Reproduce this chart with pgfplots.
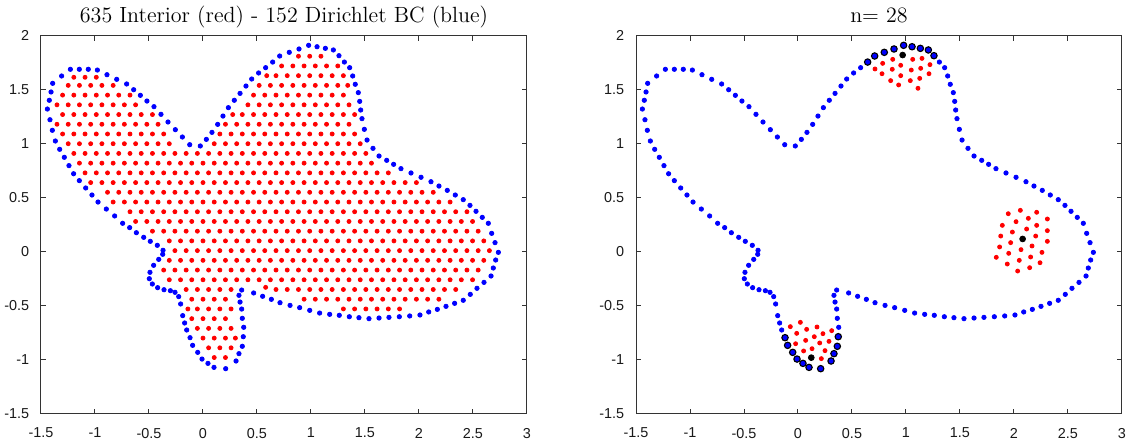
\documentclass[border=0pt]{standalone}
\usepackage{fontspec}
\setsansfont{Liberation Sans}
\usepackage{pgfplots}
\usepackage{pgfplotstable}
\pgfplotsset{compat=1.18}
\definecolor{mblue}{rgb}{0,0,1}
\definecolor{mred}{rgb}{1,0,0}

\pgfplotstableread[row sep=\\]{
x y\\
-1.228 1.689\\ -1.145 1.689\\ -1.062 1.689\\ -0.978 1.682\\ -0.889 1.639\\ -0.799 1.596\\ -0.707 1.553\\ -0.642 1.500\\
-0.580 1.448\\ -0.519 1.395\\ -0.454 1.343\\ -0.389 1.272\\ -0.324 1.201\\ -0.256 1.130\\ -0.191 1.062\\ -0.123 0.991\\
-0.025 0.979\\ 0.031 1.040\\ 0.083 1.105\\ 0.136 1.179\\ 0.185 1.256\\ 0.235 1.334\\ 0.290 1.402\\ 0.343 1.466\\
0.398 1.534\\ 0.451 1.599\\ 0.515 1.655\\ 0.580 1.704\\ 0.645 1.756\\ 0.710 1.812\\ 0.799 1.846\\ 0.889 1.877\\
0.978 1.911\\ 1.056 1.898\\ 1.133 1.883\\ 1.207 1.868\\ 1.259 1.815\\ 1.309 1.756\\ 1.358 1.704\\ 1.386 1.627\\
1.410 1.550\\ 1.438 1.473\\ 1.451 1.392\\ 1.460 1.312\\ 1.472 1.232\\ 1.494 1.133\\ 1.519 1.034\\ 1.574 0.957\\
1.630 0.886\\ 1.701 0.846\\ 1.765 0.809\\ 1.833 0.769\\ 1.926 0.729\\ 2.019 0.689\\ 2.111 0.648\\ 2.185 0.608\\
2.262 0.568\\ 2.336 0.525\\ 2.410 0.482\\ 2.472 0.429\\ 2.528 0.374\\ 2.586 0.318\\ 2.642 0.263\\ 2.673 0.170\\
2.704 0.084\\ 2.735 -0.006\\ 2.710 -0.077\\ 2.688 -0.151\\ 2.667 -0.225\\ 2.602 -0.284\\ 2.537 -0.339\\ 2.475 -0.395\\
2.410 -0.450\\ 2.330 -0.478\\ 2.250 -0.506\\ 2.170 -0.534\\ 2.090 -0.558\\ 2.009 -0.586\\ 1.914 -0.595\\ 1.818 -0.602\\
1.722 -0.608\\ 1.630 -0.614\\ 1.537 -0.620\\ 1.444 -0.611\\ 1.355 -0.602\\ 1.262 -0.589\\ 1.173 -0.580\\ 1.080 -0.568\\
0.988 -0.543\\ 0.895 -0.518\\ 0.806 -0.497\\ 0.713 -0.472\\ 0.633 -0.441\\ 0.552 -0.413\\ 0.469 -0.382\\ 0.358 -0.355\\
0.333 -0.404\\ 0.343 -0.466\\ 0.358 -0.531\\ 0.364 -0.617\\ 0.377 -0.700\\ 0.373 -0.787\\ 0.364 -0.876\\ 0.333 -0.944\\
0.306 -1.012\\ 0.210 -1.083\\ 0.102 -1.071\\ 0.046 -1.034\\ -0.009 -0.994\\ -0.049 -0.932\\ -0.096 -0.867\\ -0.120 -0.796\\
-0.151 -0.725\\ -0.170 -0.660\\ -0.188 -0.592\\ -0.207 -0.484\\ -0.225 -0.416\\ -0.259 -0.376\\ -0.302 -0.361\\ -0.361 -0.352\\
-0.420 -0.333\\ -0.469 -0.299\\ -0.497 -0.250\\ -0.491 -0.191\\ -0.457 -0.126\\ -0.410 -0.071\\ -0.373 -0.024\\ -0.370 0.013\\
-0.423 0.059\\ -0.488 0.096\\ -0.549 0.133\\ -0.617 0.176\\ -0.679 0.223\\ -0.744 0.263\\ -0.818 0.331\\ -0.895 0.395\\
-0.972 0.460\\ -1.028 0.525\\ -1.086 0.590\\ -1.145 0.658\\ -1.198 0.722\\ -1.241 0.797\\ -1.284 0.874\\ -1.327 0.948\\
-1.367 1.025\\ -1.395 1.124\\ -1.417 1.222\\ -1.441 1.321\\ -1.423 1.402\\ -1.407 1.479\\ -1.392 1.559\\ -1.309 1.627\\
}\bdry

\pgfplotstableread[row sep=\\]{
x y\\
0.104 -0.98\\ 0.208 -0.98\\
0.052 -0.89\\ 0.156 -0.89\\ 0.260 -0.89\\
0 -0.80\\ 0.104 -0.80\\ 0.208 -0.80\\ 0.300 -0.80\\
-0.052 -0.71\\ 0.052 -0.71\\ 0.156 -0.71\\ 0.260 -0.71\\
-0.104 -0.62\\ 0 -0.62\\ 0.104 -0.62\\ 0.208 -0.62\\
-0.140 -0.53\\ -0.052 -0.53\\ 0.052 -0.53\\ 0.156 -0.53\\ 0.260 -0.53\\ 1.300 -0.53\\ 1.404 -0.53\\ 1.508 -0.53\\ 1.612 -0.53\\ 1.716 -0.53\\ 1.820 -0.53\\
-0.104 -0.44\\ 0 -0.44\\ 0.104 -0.44\\ 0.208 -0.44\\ 0.936 -0.44\\ 1.040 -0.44\\ 1.144 -0.44\\ 1.248 -0.44\\ 1.352 -0.44\\ 1.456 -0.44\\ 1.560 -0.44\\ 1.664 -0.44\\ 1.768 -0.44\\ 1.872 -0.44\\ 1.976 -0.44\\ 2.080 -0.44\\ 2.184 -0.44\\
-0.156 -0.35\\ -0.052 -0.35\\ 0.052 -0.35\\ 0.156 -0.35\\ 0.260 -0.35\\ 0.580 -0.33\\ 0.676 -0.35\\ 0.780 -0.35\\ 0.884 -0.35\\ 0.988 -0.35\\ 1.092 -0.35\\ 1.196 -0.35\\ 1.300 -0.35\\ 1.404 -0.35\\ 1.508 -0.35\\ 1.612 -0.35\\ 1.716 -0.35\\ 1.820 -0.35\\ 1.924 -0.35\\ 2.028 -0.35\\ 2.132 -0.35\\ 2.236 -0.35\\ 2.340 -0.35\\
-0.312 -0.26\\ -0.208 -0.26\\ -0.104 -0.26\\ 0 -0.26\\ 0.104 -0.26\\ 0.208 -0.26\\ 0.312 -0.26\\ 0.416 -0.26\\ 0.520 -0.26\\ 0.624 -0.26\\ 0.728 -0.26\\ 0.832 -0.26\\ 0.936 -0.26\\ 1.040 -0.26\\ 1.144 -0.26\\ 1.248 -0.26\\ 1.352 -0.26\\ 1.456 -0.26\\ 1.560 -0.26\\ 1.664 -0.26\\ 1.768 -0.26\\ 1.872 -0.26\\ 1.976 -0.26\\ 2.080 -0.26\\ 2.184 -0.26\\ 2.288 -0.26\\ 2.392 -0.26\\ 2.496 -0.26\\
-0.364 -0.17\\ -0.260 -0.17\\ -0.156 -0.17\\ -0.052 -0.17\\ 0.052 -0.17\\ 0.156 -0.17\\ 0.260 -0.17\\ 0.364 -0.17\\ 0.468 -0.17\\ 0.572 -0.17\\ 0.676 -0.17\\ 0.780 -0.17\\ 0.884 -0.17\\ 0.988 -0.17\\ 1.092 -0.17\\ 1.196 -0.17\\ 1.300 -0.17\\ 1.404 -0.17\\ 1.508 -0.17\\ 1.612 -0.17\\ 1.716 -0.17\\ 1.820 -0.17\\ 1.924 -0.17\\ 2.028 -0.17\\ 2.132 -0.17\\ 2.236 -0.17\\ 2.340 -0.17\\ 2.444 -0.17\\ 2.548 -0.17\\
-0.312 -0.08\\ -0.208 -0.08\\ -0.104 -0.08\\ 0 -0.08\\ 0.104 -0.08\\ 0.208 -0.08\\ 0.312 -0.08\\ 0.416 -0.08\\ 0.520 -0.08\\ 0.624 -0.08\\ 0.728 -0.08\\ 0.832 -0.08\\ 0.936 -0.08\\ 1.040 -0.08\\ 1.144 -0.08\\ 1.248 -0.08\\ 1.352 -0.08\\ 1.456 -0.08\\ 1.560 -0.08\\ 1.664 -0.08\\ 1.768 -0.08\\ 1.872 -0.08\\ 1.976 -0.08\\ 2.080 -0.08\\ 2.184 -0.08\\ 2.288 -0.08\\ 2.392 -0.08\\ 2.496 -0.08\\ 2.600 -0.08\\
-0.260 0.01\\ -0.156 0.01\\ -0.052 0.01\\ 0.052 0.01\\ 0.156 0.01\\ 0.260 0.01\\ 0.364 0.01\\ 0.468 0.01\\ 0.572 0.01\\ 0.676 0.01\\ 0.780 0.01\\ 0.884 0.01\\ 0.988 0.01\\ 1.092 0.01\\ 1.196 0.01\\ 1.300 0.01\\ 1.404 0.01\\ 1.508 0.01\\ 1.612 0.01\\ 1.716 0.01\\ 1.820 0.01\\ 1.924 0.01\\ 2.028 0.01\\ 2.132 0.01\\ 2.236 0.01\\ 2.340 0.01\\ 2.444 0.01\\ 2.548 0.01\\ 2.652 0.01\\
-0.312 0.10\\ -0.208 0.10\\ -0.104 0.10\\ 0 0.10\\ 0.104 0.10\\ 0.208 0.10\\ 0.312 0.10\\ 0.416 0.10\\ 0.520 0.10\\ 0.624 0.10\\ 0.728 0.10\\ 0.832 0.10\\ 0.936 0.10\\ 1.040 0.10\\ 1.144 0.10\\ 1.248 0.10\\ 1.352 0.10\\ 1.456 0.10\\ 1.560 0.10\\ 1.664 0.10\\ 1.768 0.10\\ 1.872 0.10\\ 1.976 0.10\\ 2.080 0.10\\ 2.184 0.10\\ 2.288 0.10\\ 2.392 0.10\\ 2.496 0.10\\ 2.600 0.10\\
-0.468 0.19\\ -0.364 0.19\\ -0.260 0.19\\ -0.156 0.19\\ -0.052 0.19\\ 0.052 0.19\\ 0.156 0.19\\ 0.260 0.19\\ 0.364 0.19\\ 0.468 0.19\\ 0.572 0.19\\ 0.676 0.19\\ 0.780 0.19\\ 0.884 0.19\\ 0.988 0.19\\ 1.092 0.19\\ 1.196 0.19\\ 1.300 0.19\\ 1.404 0.19\\ 1.508 0.19\\ 1.612 0.19\\ 1.716 0.19\\ 1.820 0.19\\ 1.924 0.19\\ 2.028 0.19\\ 2.132 0.19\\ 2.236 0.19\\ 2.340 0.19\\ 2.444 0.19\\ 2.548 0.19\\
-0.624 0.28\\ -0.520 0.28\\ -0.416 0.28\\ -0.312 0.28\\ -0.208 0.28\\ -0.104 0.28\\ 0 0.28\\ 0.104 0.28\\ 0.208 0.28\\ 0.312 0.28\\ 0.416 0.28\\ 0.520 0.28\\ 0.624 0.28\\ 0.728 0.28\\ 0.832 0.28\\ 0.936 0.28\\ 1.040 0.28\\ 1.144 0.28\\ 1.248 0.28\\ 1.352 0.28\\ 1.456 0.28\\ 1.560 0.28\\ 1.664 0.28\\ 1.768 0.28\\ 1.872 0.28\\ 1.976 0.28\\ 2.080 0.28\\ 2.184 0.28\\ 2.288 0.28\\ 2.392 0.28\\ 2.496 0.28\\
-0.676 0.37\\ -0.572 0.37\\ -0.468 0.37\\ -0.364 0.37\\ -0.260 0.37\\ -0.156 0.37\\ -0.052 0.37\\ 0.052 0.37\\ 0.156 0.37\\ 0.260 0.37\\ 0.364 0.37\\ 0.468 0.37\\ 0.572 0.37\\ 0.676 0.37\\ 0.780 0.37\\ 0.884 0.37\\ 0.988 0.37\\ 1.092 0.37\\ 1.196 0.37\\ 1.300 0.37\\ 1.404 0.37\\ 1.508 0.37\\ 1.612 0.37\\ 1.716 0.37\\ 1.820 0.37\\ 1.924 0.37\\ 2.028 0.37\\ 2.132 0.37\\ 2.236 0.37\\ 2.340 0.37\\ 2.444 0.37\\
-0.832 0.46\\ -0.728 0.46\\ -0.624 0.46\\ -0.520 0.46\\ -0.416 0.46\\ -0.312 0.46\\ -0.208 0.46\\ -0.104 0.46\\ 0 0.46\\ 0.104 0.46\\ 0.208 0.46\\ 0.312 0.46\\ 0.416 0.46\\ 0.520 0.46\\ 0.624 0.46\\ 0.728 0.46\\ 0.832 0.46\\ 0.936 0.46\\ 1.040 0.46\\ 1.144 0.46\\ 1.248 0.46\\ 1.352 0.46\\ 1.456 0.46\\ 1.560 0.46\\ 1.664 0.46\\ 1.768 0.46\\ 1.872 0.46\\ 1.976 0.46\\ 2.080 0.46\\ 2.184 0.46\\ 2.288 0.46\\
-0.884 0.55\\ -0.780 0.55\\ -0.676 0.55\\ -0.572 0.55\\ -0.468 0.55\\ -0.364 0.55\\ -0.260 0.55\\ -0.156 0.55\\ -0.052 0.55\\ 0.052 0.55\\ 0.156 0.55\\ 0.260 0.55\\ 0.364 0.55\\ 0.468 0.55\\ 0.572 0.55\\ 0.676 0.55\\ 0.780 0.55\\ 0.884 0.55\\ 0.988 0.55\\ 1.092 0.55\\ 1.196 0.55\\ 1.300 0.55\\ 1.404 0.55\\ 1.508 0.55\\ 1.612 0.55\\ 1.716 0.55\\ 1.820 0.55\\ 1.924 0.55\\ 2.028 0.55\\ 2.132 0.55\\
-1.040 0.64\\ -0.936 0.64\\ -0.832 0.64\\ -0.728 0.64\\ -0.624 0.64\\ -0.520 0.64\\ -0.416 0.64\\ -0.312 0.64\\ -0.208 0.64\\ -0.104 0.64\\ 0 0.64\\ 0.104 0.64\\ 0.208 0.64\\ 0.312 0.64\\ 0.416 0.64\\ 0.520 0.64\\ 0.624 0.64\\ 0.728 0.64\\ 0.832 0.64\\ 0.936 0.64\\ 1.040 0.64\\ 1.144 0.64\\ 1.248 0.64\\ 1.352 0.64\\ 1.456 0.64\\ 1.560 0.64\\ 1.664 0.64\\ 1.768 0.64\\ 1.872 0.64\\ 1.976 0.64\\
-1.092 0.73\\ -0.988 0.73\\ -0.884 0.73\\ -0.780 0.73\\ -0.676 0.73\\ -0.572 0.73\\ -0.468 0.73\\ -0.364 0.73\\ -0.260 0.73\\ -0.156 0.73\\ -0.052 0.73\\ 0.052 0.73\\ 0.156 0.73\\ 0.260 0.73\\ 0.364 0.73\\ 0.468 0.73\\ 0.572 0.73\\ 0.676 0.73\\ 0.780 0.73\\ 0.884 0.73\\ 0.988 0.73\\ 1.092 0.73\\ 1.196 0.73\\ 1.300 0.73\\ 1.404 0.73\\ 1.508 0.73\\ 1.612 0.73\\ 1.716 0.73\\
-1.144 0.82\\ -1.040 0.82\\ -0.936 0.82\\ -0.832 0.82\\ -0.728 0.82\\ -0.624 0.82\\ -0.520 0.82\\ -0.416 0.82\\ -0.312 0.82\\ -0.208 0.82\\ -0.104 0.82\\ 0 0.82\\ 0.104 0.82\\ 0.208 0.82\\ 0.312 0.82\\ 0.416 0.82\\ 0.520 0.82\\ 0.624 0.82\\ 0.728 0.82\\ 0.832 0.82\\ 0.936 0.82\\ 1.040 0.82\\ 1.144 0.82\\ 1.248 0.82\\ 1.352 0.82\\ 1.456 0.82\\ 1.560 0.82\\
-1.196 0.91\\ -1.092 0.91\\ -0.988 0.91\\ -0.884 0.91\\ -0.780 0.91\\ -0.676 0.91\\ -0.572 0.91\\ -0.468 0.91\\ -0.364 0.91\\ -0.260 0.91\\ -0.156 0.91\\ -0.052 0.91\\ 0.052 0.91\\ 0.156 0.91\\ 0.260 0.91\\ 0.364 0.91\\ 0.468 0.91\\ 0.572 0.91\\ 0.676 0.91\\ 0.780 0.91\\ 0.884 0.91\\ 0.988 0.91\\ 1.092 0.91\\ 1.196 0.91\\ 1.300 0.91\\ 1.404 0.91\\ 1.508 0.91\\
-1.248 1.00\\ -1.144 1.00\\ -1.040 1.00\\ -0.936 1.00\\ -0.832 1.00\\ -0.728 1.00\\ -0.624 1.00\\ -0.520 1.00\\ -0.416 1.00\\ -0.312 1.00\\ 0.104 1.00\\ 0.208 1.00\\ 0.312 1.00\\ 0.416 1.00\\ 0.520 1.00\\ 0.624 1.00\\ 0.728 1.00\\ 0.832 1.00\\ 0.936 1.00\\ 1.040 1.00\\ 1.144 1.00\\ 1.248 1.00\\ 1.352 1.00\\ 1.456 1.00\\
-1.300 1.09\\ -1.196 1.09\\ -1.092 1.09\\ -0.988 1.09\\ -0.884 1.09\\ -0.780 1.09\\ -0.676 1.09\\ -0.572 1.09\\ -0.468 1.09\\ -0.364 1.09\\ 0.156 1.09\\ 0.260 1.09\\ 0.364 1.09\\ 0.468 1.09\\ 0.572 1.09\\ 0.676 1.09\\ 0.780 1.09\\ 0.884 1.09\\ 0.988 1.09\\ 1.092 1.09\\ 1.196 1.09\\ 1.300 1.09\\ 1.404 1.09\\
-1.352 1.18\\ -1.248 1.18\\ -1.144 1.18\\ -1.040 1.18\\ -0.936 1.18\\ -0.832 1.18\\ -0.728 1.18\\ -0.624 1.18\\ -0.520 1.18\\ -0.416 1.18\\ 0.208 1.18\\ 0.312 1.18\\ 0.416 1.18\\ 0.520 1.18\\ 0.624 1.18\\ 0.728 1.18\\ 0.832 1.18\\ 0.936 1.18\\ 1.040 1.18\\ 1.144 1.18\\ 1.248 1.18\\ 1.352 1.18\\
-1.300 1.27\\ -1.196 1.27\\ -1.092 1.27\\ -0.988 1.27\\ -0.884 1.27\\ -0.780 1.27\\ -0.676 1.27\\ -0.572 1.27\\ -0.468 1.27\\ 0.275 1.27\\ 0.364 1.27\\ 0.468 1.27\\ 0.572 1.27\\ 0.676 1.27\\ 0.780 1.27\\ 0.884 1.27\\ 0.988 1.27\\ 1.092 1.27\\ 1.196 1.27\\ 1.300 1.27\\ 1.404 1.27\\
-1.352 1.36\\ -1.248 1.36\\ -1.144 1.36\\ -1.040 1.36\\ -0.936 1.36\\ -0.832 1.36\\ -0.728 1.36\\ -0.624 1.36\\ 0.416 1.36\\ 0.520 1.36\\ 0.624 1.36\\ 0.728 1.36\\ 0.832 1.36\\ 0.936 1.36\\ 1.040 1.36\\ 1.144 1.36\\ 1.248 1.36\\ 1.352 1.36\\
-1.300 1.45\\ -1.196 1.45\\ -1.092 1.45\\ -0.988 1.45\\ -0.884 1.45\\ -0.780 1.45\\ -0.676 1.45\\ 0.468 1.45\\ 0.572 1.45\\ 0.676 1.45\\ 0.780 1.45\\ 0.884 1.45\\ 0.988 1.45\\ 1.092 1.45\\ 1.196 1.45\\ 1.300 1.45\\
-1.248 1.54\\ -1.144 1.54\\ -1.040 1.54\\ -0.936 1.54\\ -0.832 1.54\\ 0.520 1.54\\ 0.624 1.54\\ 0.728 1.54\\ 0.832 1.54\\ 0.936 1.54\\ 1.040 1.54\\ 1.144 1.54\\ 1.248 1.54\\ 1.340 1.54\\
-1.196 1.615\\ -1.092 1.615\\ -0.988 1.615\\ 0.590 1.63\\ 0.676 1.63\\ 0.780 1.63\\ 0.884 1.63\\ 0.988 1.63\\ 1.092 1.63\\ 1.196 1.63\\ 1.300 1.63\\
0.728 1.72\\ 0.832 1.72\\ 0.936 1.72\\ 1.040 1.72\\ 1.144 1.72\\ 1.248 1.72\\
0.884 1.81\\ 0.988 1.81\\ 1.092 1.81\\
}\interior

\pgfplotsset{matax/.style={
  scale only axis, width=243pt, height=189pt,
  xmin=-1.5, xmax=3, ymin=-1.5, ymax=2,
  xtick={-1.5,-1,-0.5,0,0.5,1,1.5,2,2.5,3},
  ytick={-1.5,-1,-0.5,0,0.5,1,1.5,2},
  tick align=inside, major tick length=2.6pt,
  axis line style={black!80, line width=0.5pt},
  every tick/.style={black!80, line width=0.5pt},
  /pgf/number format/assume math mode=true,
  ticklabel style={font=\sffamily\fontsize{7.2}{8}\selectfont, text=black!90},
  xticklabel style={yshift=-3.6pt},
  yticklabel style={xshift=-2.4pt},
  every axis title shift=0pt,
  title style={at={(0.5,1)}, anchor=base, yshift=6.7pt, font=\rmfamily\fontsize{11}{13}\selectfont},
  clip=false,
}}

\begin{document}
\begin{tikzpicture}
\useasboundingbox (-20.5pt,-13.15pt) rectangle (545.5pt,206.85pt);
\begin{axis}[matax, at={(0pt,0pt)}, title={635 Interior (red) - 152 Dirichlet BC (blue)}]
\addplot[only marks, mark=*, mark size=1.0pt, mark options={draw=mred, fill=mred}] table {\interior};
\addplot[only marks, mark=*, mark size=1.08pt, mark options={draw=mblue, fill=mblue}] table {\bdry};
\end{axis}
\begin{axis}[matax, at={(297.5pt,0pt)}, title={n= 28}]
\addplot[only marks, mark=*, mark size=1.08pt, mark options={draw=mblue, fill=mblue}] table {\bdry};
% stencil interior nodes
\addplot[only marks, mark=*, mark size=1.0pt, mark options={draw=mred, fill=mred}] coordinates {
(0.713,1.692) (0.778,1.648) (0.784,1.744) (0.858,1.584) (0.873,1.689) (0.877,1.781) (0.932,1.544) (0.951,1.630) (0.951,1.726)
(1.040,1.584) (1.049,1.682) (1.062,1.781) (1.111,1.513) (1.127,1.605) (1.136,1.698) (1.148,1.790) (1.213,1.648) (1.222,1.732)
(-0.071,-0.694) (0.022,-0.654) (-0.012,-0.756) (0.080,-0.719) (0.176,-0.697) (0.312,-0.731) (0.231,-0.759) (0.151,-0.787)
(0.071,-0.821) (-0.022,-0.852) (0.052,-0.919) (0.130,-0.898) (0.201,-0.845) (0.287,-0.830) (0.250,-0.916) (0.216,-0.990)
(1.947,0.352) (2.059,0.383) (2.210,0.365) (2.133,0.309) (2.309,0.303) (1.892,0.244) (2.019,0.278) (2.210,0.244) (1.877,0.145)
(1.985,0.182) (2.117,0.210) (2.201,0.145) (2.309,0.195) (1.867,0.044) (1.969,0.084) (2.167,0.053) (2.309,0.096) (1.836,-0.052)
(1.951,-0.015) (2.065,0.019) (2.259,-0.006) (1.938,-0.114) (2.049,-0.080) (2.154,-0.049) (2.241,-0.102) (2.034,-0.179) (2.145,-0.148)
};
% stencil boundary nodes
\addplot[only marks, mark=*, mark size=1.6pt, mark options={draw=black, fill=mblue, line width=0.55pt}] coordinates {
(0.645,1.756) (0.710,1.812) (0.799,1.846) (0.889,1.877) (0.978,1.911) (1.056,1.898) (1.133,1.883) (1.207,1.868) (1.259,1.815)
(0.373,-0.787) (0.364,-0.876) (0.333,-0.944) (0.306,-1.012) (0.210,-1.083) (0.102,-1.071) (0.046,-1.034) (-0.009,-0.994)
(-0.049,-0.932) (-0.096,-0.867) (-0.120,-0.796)
};
% stencil centres
\addplot[only marks, mark=*, mark size=1.45pt, mark options={draw=black, fill=black}] coordinates {
(0.969,1.821) (0.123,-0.981) (2.080,0.118)
};
\end{axis}
\end{tikzpicture}
\end{document}
